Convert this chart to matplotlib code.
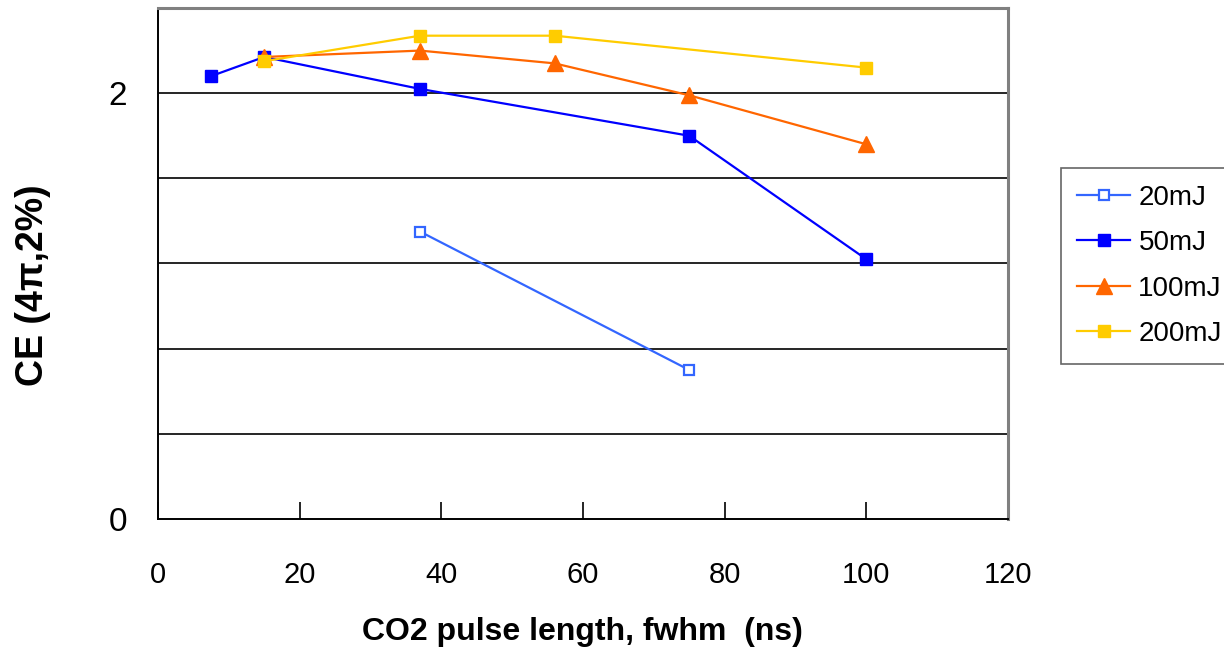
import matplotlib
matplotlib.use("Agg")
import matplotlib.pyplot as plt

plt.rcParams['font.family'] = ['Liberation Sans', 'DejaVu Sans']

x_20 = [37, 75]
y_20 = [1.35, 0.70]
x_50 = [7.5, 15, 37, 75, 100]
y_50 = [2.08, 2.17, 2.02, 1.80, 1.22]
x_100 = [15, 37, 56, 75, 100]
y_100 = [2.17, 2.20, 2.14, 1.99, 1.76]
x_200 = [15, 37, 56, 100]
y_200 = [2.15, 2.27, 2.27, 2.12]
labels = ["20mJ", "50mJ", "100mJ", "200mJ"]
xticks = [0, 20, 40, 60, 80, 100, 120]
yticks = [0, 0.4, 0.8, 1.2, 1.6, 2.0, 2.4]
ytick_labels = ['0', '', '', '', '', '2', '']

fig = plt.figure(figsize=(12.24, 6.51), dpi=100)
ax = fig.add_axes([0.129, 0.2028, 0.6945, 0.7849])

ax.plot(x_20, y_20, color='#3366FF', marker='s', markerfacecolor='white',
        markeredgecolor='#3366FF', markersize=7.5, markeredgewidth=1.6, lw=1.6, label=labels[0])
ax.plot(x_50, y_50, color='#0000FF', marker='s', markersize=8.5, lw=1.6, label=labels[1])
ax.plot(x_100, y_100, color='#FF6600', marker='^', markersize=11, lw=1.6, label=labels[2])
ax.plot(x_200, y_200, color='#FFCC00', marker='s', markersize=8.5, lw=1.6, label=labels[3])

ax.set_xlim(0, 120)
ax.set_ylim(0, 2.4)
ax.set_xticks(xticks)
ax.set_yticks(yticks)
ax.set_yticklabels(ytick_labels)
for v in yticks[1:-1]:
    ax.axhline(v, color='black', lw=1.2, zorder=0)
ax.tick_params(axis='both', direction='in', length=12, width=1.2, colors='black')
ax.tick_params(axis='x', labelsize=21, pad=30)
ax.tick_params(axis='y', labelsize=24, pad=22, length=0)
for s in ['top', 'right']:
    ax.spines[s].set_color('#808080')
    ax.spines[s].set_linewidth(2.2)
for s in ['left', 'bottom']:
    ax.spines[s].set_color('black')
    ax.spines[s].set_linewidth(1.4)

ax.set_xlabel('CO2 pulse length, fwhm  (ns)', fontsize=23, fontweight='bold')
ax.xaxis.label.set_va('center')
ax.xaxis.set_label_coords(0.5, -0.222)
ax.set_ylabel('CE (4π,2%)', fontsize=27, fontweight='bold')
ax.yaxis.label.set_va('center')
ax.yaxis.set_label_coords(-0.147, 0.458)

leg = fig.legend(loc='upper left', bbox_to_anchor=(0.8665, 0.742), fontsize=20,
                 frameon=True, fancybox=False, edgecolor='#404040', borderpad=0.6,
                 labelspacing=0.7, handlelength=1.9, handletextpad=0.3,
                 borderaxespad=0)
leg.get_frame().set_linewidth(1.2)

fig.savefig('out.png', dpi=100)
